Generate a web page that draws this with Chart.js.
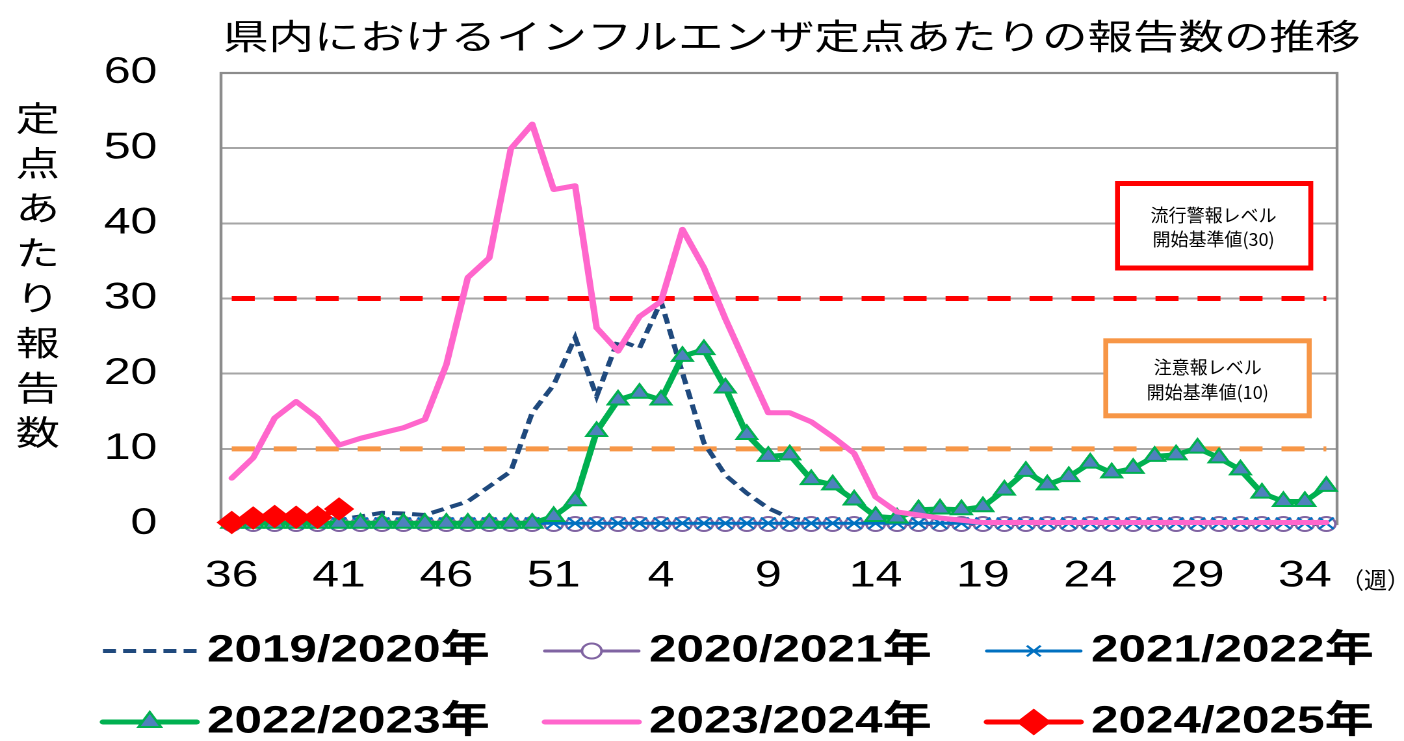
<!DOCTYPE html>
<html>
<head>
<meta charset="utf-8">
<style>
html,body{margin:0;padding:0;background:#fff;overflow:hidden;}
#wrap{width:1080px;height:741px;transform:scaleX(1.3);transform-origin:0 0;}
canvas{display:block;}
</style>
<script src="https://cdn.jsdelivr.net/npm/chart.js@4.4.1/dist/chart.umd.min.js"></script>
</head>
<body>
<div id="wrap"><canvas id="c" width="1080" height="741" style="width:1080px;height:741px"></canvas></div>
<script>
// ---- data ----
const weeks = ['36','37','38','39','40','41','42','43','44','45','46','47','48','49','50','51','52',
  '1','2','3','4','5','6','7','8','9','10','11','12','13','14','15','16','17','18','19','20',
  '21','22','23','24','25','26','27','28','29','30','31','32','33','34','35'];
const tickLabels = ['36','41','46','51','4','9','14','19','24','29','34'];

const s2019 = [0.5,0.5,0.5,0.5,0.6,0.6,1.0,1.5,1.4,1.2,2.1,3.0,5.0,7.0,14.8,18.5,24.8,
  17.0,24.5,23.4,29.6,20.1,10.8,6.5,4.1,2.1,0.8,0.3,0.1,0.1,0.0,0.0,0.0,0.0,0.0,0.0,0.0,
  0.0,0.0,0.0,0.0,0.0,0.0,0.0,0.0,0.0,0.0,0.0,0.0,0.0,0.0,0.0];
const s2020 = [0,0,0,0,0,0,0,0,0,0,0,0,0,0,0,0,0,
  0,0,0,0,0,0,0,0,0,0,0,0,0,0,0,0,0,0,0,0,
  0,0,0,0,0,0,0,0,0,0,0,0,0,0,0];
const s2021 = [0.1,0.1,0.1,0.1,0.1,0.1,0.1,0.1,0.1,0.1,0.1,0.1,0.1,0.1,0.1,0.1,0.1,
  0.1,0.1,0.1,0.1,0.1,0.1,0.1,0.1,0.1,0.1,0.1,0.1,0.1,0.1,0.1,0.1,0.1,0.1,0.1,0.1,
  0.1,0.1,0.1,0.1,0.1,0.1,0.1,0.1,0.1,0.1,0.1,0.1,0.1,0.1,0.1];
const s2022 = [0.1,0.1,0.1,0.1,0.1,0.1,0.1,0.1,0.1,0.1,0.1,0.1,0.1,0.1,0.1,1.0,3.1,
  12.3,16.5,17.4,16.5,22.3,23.2,18.1,11.9,9.0,9.2,5.9,5.2,3.2,1.0,0.8,1.9,2.0,1.9,2.3,4.5,
  7.0,5.2,6.3,8.1,6.8,7.4,9.0,9.2,10.1,8.8,7.2,4.1,3.0,3.0,5.0];
const s2023 = [6.1,8.8,14.1,16.3,14.1,10.5,11.4,12.1,12.8,13.9,21.2,32.8,35.4,49.9,53.2,44.5,45.0,
  26.1,23.0,27.6,29.6,39.2,34.1,27.3,21.0,14.8,14.8,13.6,11.6,9.4,3.6,1.6,1.2,0.8,0.5,0.2,0.2,
  0.2,0.2,0.2,0.2,0.2,0.2,0.2,0.2,0.2,0.2,0.2,0.2,0.2,0.2,0.2];
const s2024 = [0.2,0.8,1.0,0.9,0.9,2.0];

const alertLevel = 30;   // 流行警報レベル
const warnLevel = 10;    // 注意報レベル

const titleText = '県内におけるインフルエンザ定点あたりの報告数の推移';
const yTitle = '定点あたり報告数';
const unitText = '（週）';

// ---- helpers ----
const CJK = "'Noto Sans CJK JP', sans-serif";
function stretchedText(ctx, text, x, y, font, sx, align) {
  ctx.save();
  ctx.translate(x, y);
  ctx.scale(sx, 1);
  ctx.font = font;
  ctx.fillStyle = '#000';
  ctx.textAlign = align || 'center';
  ctx.textBaseline = 'middle';
  ctx.fillText(text, 0, 0);
  ctx.restore();
}
function marker(ctx, style, x, y, r, fill, stroke, bw) {
  ctx.save();
  ctx.setLineDash([]);
  ctx.beginPath();
  ctx.lineWidth = bw; ctx.strokeStyle = stroke; ctx.fillStyle = fill;
  if (style === 'circle') {
    ctx.arc(x, y, r, 0, Math.PI * 2); ctx.fill(); ctx.stroke();
  } else if (style === 'triangle') {
    ctx.moveTo(x, y - r);
    ctx.lineTo(x + r * Math.sin(2 * Math.PI / 3), y - r * Math.cos(2 * Math.PI / 3));
    ctx.lineTo(x + r * Math.sin(4 * Math.PI / 3), y - r * Math.cos(4 * Math.PI / 3));
    ctx.closePath(); ctx.fill(); ctx.stroke();
  } else if (style === 'rectRot') {
    ctx.moveTo(x - r, y); ctx.lineTo(x, y - r); ctx.lineTo(x + r, y); ctx.lineTo(x, y + r);
    ctx.closePath(); ctx.fill(); ctx.stroke();
  } else if (style === 'crossRot') {
    const d = r * Math.SQRT1_2;
    ctx.moveTo(x - d, y - d); ctx.lineTo(x + d, y + d);
    ctx.moveTo(x + d, y - d); ctx.lineTo(x - d, y + d); ctx.stroke();
  }
  ctx.restore();
}
function box(ctx, x0, y0, x1, y1, color, lines, cx, ys) {
  ctx.save();
  ctx.fillStyle = color;
  ctx.fillRect(x0, y0, x1 - x0, y1 - y0);
  ctx.fillStyle = '#fff';
  ctx.fillRect(x0 + 3.8, y0 + 5, x1 - x0 - 7.6, y1 - y0 - 10);
  ctx.restore();
  lines.forEach((t, i) => stretchedText(ctx, t, cx, ys[i], '18px ' + CJK, 1 / 1.3, 'center'));
}

const decor = {
  id: 'decor',
  beforeDatasetsDraw(chart) {
    const {ctx, chartArea: a, scales: {x, y}} = chart;
    ctx.save();
    // plot border
    ctx.strokeStyle = '#8C8C8C';
    ctx.lineWidth = 2.2;
    ctx.strokeRect(a.left, a.top, a.right - a.left, a.bottom - a.top);
    // threshold lines
    const x0 = x.getPixelForValue(0), x1 = x.getPixelForValue(weeks.length - 1);
    [[alertLevel, '#FF0000'], [warnLevel, '#F79646']].forEach(([v, c]) => {
      const py = y.getPixelForValue(v);
      ctx.beginPath();
      ctx.setLineDash([17.7, 14.6]);
      ctx.lineWidth = 5;
      ctx.strokeStyle = c;
      ctx.moveTo(x0, py); ctx.lineTo(x1, py);
      ctx.stroke();
    });
    ctx.restore();
  },
  afterDraw(chart) {
    const ctx = chart.ctx;
    // title
    stretchedText(ctx, titleText, 609, 36, '35px ' + CJK, 1, 'center');
    // y axis title (stacked)
    [...yTitle].forEach((ch, i) => stretchedText(ctx, ch, 29, 118 + i * 44.9, '34px ' + CJK, 1, 'center'));
    // unit
    stretchedText(ctx, unitText, 1031.5, 580, '23px ' + CJK, 1 / 1.3, 'left');
    // annotation boxes
    box(ctx, 857.7, 181, 1010.2, 270.5, '#FF0000', ['流行警報レベル', '開始基準値(30)'], 933.5, [215, 239]);
    box(ctx, 848.7, 338.3, 1009, 418.3, '#F79646', ['注意報レベル', '開始基準値(10)'], 929, [367, 392]);
    // legend
    const cols = [79.2, 419.2, 759.2], rows = [651, 722];
    const legR = {circle: 7.5, triangle: 10, rectRot: 12, crossRot: 7.5};
    chart.data.datasets.forEach((ds, i) => {
      const lx = cols[i % 3], ly = rows[Math.floor(i / 3)];
      ctx.save();
      ctx.beginPath();
      ctx.strokeStyle = ds.borderColor;
      ctx.lineWidth = ds.borderWidth;
      ctx.lineCap = ds.borderDash ? 'butt' : 'round';
      ctx.setLineDash(ds.borderDash || []);
      ctx.moveTo(lx, ly); ctx.lineTo(lx + 72, ly);
      ctx.stroke();
      ctx.restore();
      if (ds.pointRadius > 0) {
        marker(ctx, ds.pointStyle, lx + 36, ly, legR[ds.pointStyle],
          ds.pointBackgroundColor || ds.borderColor, ds.pointBorderColor || ds.borderColor, 2);
      }
      ctx.save();
      ctx.font = "bold 38px 'Liberation Sans', 'Noto Sans CJK JP', sans-serif";
      ctx.fillStyle = '#000';
      ctx.textAlign = 'left';
      ctx.textBaseline = 'middle';
      ctx.fillText(ds.label, lx + 80, ly);
      ctx.restore();
    });
  }
};

const tickFont = {family: "'Liberation Sans', Arial, sans-serif", size: 37};

new Chart(document.getElementById('c'), {
  type: 'line',
  data: {
    labels: weeks,
    datasets: [
      {label: '2019/2020年', data: s2019, borderColor: '#1F497D', borderWidth: 4, borderDash: [10, 5.5],
       pointRadius: 0, order: 6},
      {label: '2020/2021年', data: s2020, borderColor: '#8064A2', borderWidth: 3, pointStyle: 'circle',
       pointRadius: 7, pointBackgroundColor: '#FFFFFF', pointBorderColor: '#8064A2', pointBorderWidth: 2, order: 5},
      {label: '2021/2022年', data: s2021, borderColor: '#0070C0', borderWidth: 3, pointStyle: 'crossRot',
       pointRadius: 8, pointBackgroundColor: '#0070C0', pointBorderColor: '#0070C0', pointBorderWidth: 2, order: 4},
      {label: '2022/2023年', data: s2022, borderColor: '#00B050', borderWidth: 5, pointStyle: 'triangle',
       pointRadius: 9, pointBackgroundColor: '#4F81BD', pointBorderColor: '#00B050', pointBorderWidth: 2,
       borderJoinStyle: 'round', order: 3},
      {label: '2023/2024年', data: s2023, borderColor: '#FF66CC', borderWidth: 5, pointRadius: 0,
       borderJoinStyle: 'round', borderCapStyle: 'round', order: 2},
      {label: '2024/2025年', data: s2024, borderColor: '#FF0000', borderWidth: 5, pointStyle: 'rectRot',
       pointRadius: 11, pointBackgroundColor: '#FF0000', pointBorderColor: '#FF0000', pointBorderWidth: 1, order: 1}
    ]
  },
  options: {
    responsive: false,
    animation: false,
    devicePixelRatio: 2,
    events: [],
    layout: {padding: {top: 73, right: 51.5, bottom: 0, left: 0}},
    elements: {line: {tension: 0}},
    datasets: {line: {clip: false}},
    plugins: {legend: {display: false}, title: {display: false}, tooltip: {enabled: false}},
    scales: {
      x: {
        type: 'category', offset: true,
        grid: {display: false, drawTicks: false}, border: {display: false},
        ticks: {autoSkip: false, maxRotation: 0, minRotation: 0, padding: 30, color: '#000', font: tickFont,
          callback: (v, i) => tickLabels.includes(weeks[i]) ? weeks[i] : ''},
        afterFit: s => { s.height = 217; }
      },
      y: {
        min: 0, max: 60,
        grid: {color: '#A6A6A6', lineWidth: 2, drawTicks: false}, border: {display: false},
        ticks: {stepSize: 10, padding: 49, color: '#000', font: tickFont},
        afterFit: s => { s.width = 170; }
      }
    }
  },
  plugins: [decor]
});
</script>
</body>
</html>
